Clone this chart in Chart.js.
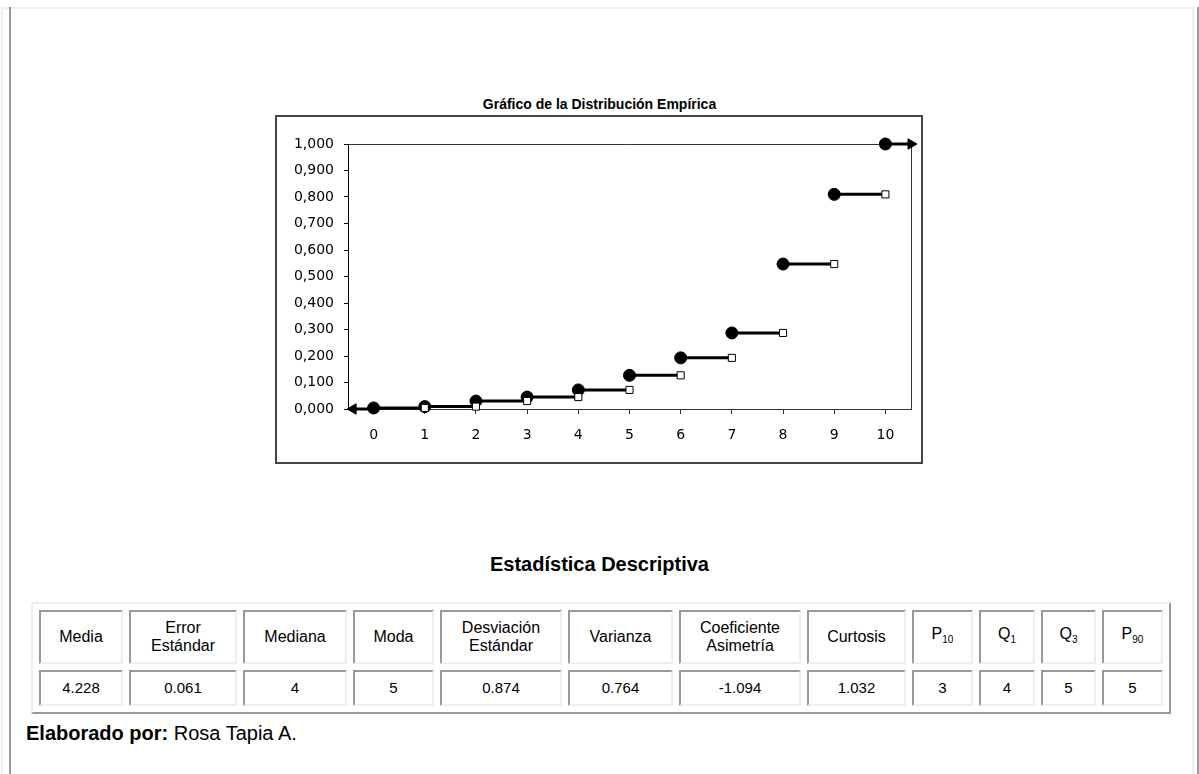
<!DOCTYPE html>
<html>
<head>
<meta charset="utf-8">
<script src="https://cdn.jsdelivr.net/npm/chart.js@4/dist/chart.umd.min.js"></script>
<style>
  body { margin: 0; background: #fff; font-family: "Liberation Sans", Arial, sans-serif; }
  .line { position: absolute; }
  #chartTitle { position: absolute; left: 0; width: 1199px; top: 96px; text-align: center; font-weight: bold; font-size: 14px; }
  #frame { position: absolute; left: 275px; top: 115px; width: 644px; height: 345px; border: 2px solid #444; }
  #statsTitle { position: absolute; left: 0; width: 1199px; top: 553px; text-align: center; font-weight: bold; font-size: 20px; }
  #stats { position: absolute; left: 31px; top: 602px; border-collapse: separate; border-spacing: 6px;
           border: 2px solid; border-color: #eee #999 #999 #eee; table-layout: fixed; }
  #stats td { border: 2px solid; border-color: #999 #eee #eee #999; text-align: center; font-size: 15px;
              padding: 0; box-sizing: border-box; line-height: 18px; }
  #stats tr.h td { height: 54px; font-size: 16px; }
  #stats tr.v td { height: 36px; }
  #stats sub { font-size: 10px; vertical-align: -4px; }
  #credit { position: absolute; left: 26px; top: 722px; font-size: 20px; }
</style>
</head>
<body>
<div class="line" style="left:1px;top:7px;width:1194px;height:2px;background:#eee"></div>
<div class="line" style="left:1px;top:7px;width:2px;height:767px;background:#eee"></div>
<div class="line" style="left:9px;top:7px;width:2px;height:767px;background:#999"></div>
<div class="line" style="left:1192px;top:9px;width:2px;height:765px;background:#eee"></div>
<div class="line" style="left:1197px;top:7px;width:2px;height:767px;background:#999"></div>

<div id="chartTitle">Gráfico de la Distribución Empírica</div>
<div id="frame"><canvas id="chart" width="644" height="345"></canvas></div>

<div id="statsTitle">Estadística Descriptiva</div>
<table id="stats"><colgroup id="cols"></colgroup><tr class="h" id="hrow"></tr><tr class="v" id="vrow"></tr></table>
<div id="credit"><b>Elaborado por:</b> Rosa Tapia A.</div>

<script>
// valores de la variable y distribución acumulada
const xValues = [0, 1, 2, 3, 4, 5, 6, 7, 8, 9, 10];
const cumFreq = [0.004, 0.009, 0.030, 0.045, 0.072, 0.127, 0.193, 0.287, 0.547, 0.810, 1.000];
const yTicks = [0, 0.1, 0.2, 0.3, 0.4, 0.5, 0.6, 0.7, 0.8, 0.9, 1.0];
const arrowLeftX = -0.4;
const arrowRightX = 10.5;

// estadística descriptiva
const statLabels = ['Media', 'Error<br>Estándar', 'Mediana', 'Moda', 'Desviación<br>Estándar', 'Varianza',
                    'Coeficiente<br>Asimetría', 'Curtosis', 'P<sub>10</sub>', 'Q<sub>1</sub>', 'Q<sub>3</sub>', 'P<sub>90</sub>'];
const statValues = ['4.228', '0.061', '4', '5', '0.874', '0.764', '-1.094', '1.032', '3', '4', '5', '5'];
const colWidths = [84, 108, 104, 81, 122, 105, 122, 99, 61, 56, 55, 61];

colWidths.forEach(w => {
    const c = document.createElement('col');
    c.style.width = w + 'px';
    document.getElementById('cols').appendChild(c);
});
statLabels.forEach(l => {
    const td = document.createElement('td');
    td.innerHTML = l;
    document.getElementById('hrow').appendChild(td);
});
statValues.forEach(v => {
    const td = document.createElement('td');
    td.textContent = v;
    document.getElementById('vrow').appendChild(td);
});

const stepSets = xValues.slice(0, -1).map((x, i) => ({
    data: [{x: x, y: cumFreq[i]}, {x: xValues[i + 1], y: cumFreq[i]}],
    pointStyle: ['circle', 'rect'],
    pointBackgroundColor: ['#000', '#fff'],
    pointRadius: [6, 5]
}));

const last = xValues.length - 1;
const datasets = stepSets.concat([
    {
        data: [{x: xValues[last], y: cumFreq[last]}, {x: arrowRightX, y: cumFreq[last]}],
        pointStyle: ['circle', 'triangle'],
        pointRotation: [0, 90],
        pointBackgroundColor: ['#000', '#000'],
        pointRadius: [6, 6]
    },
    {
        data: [{x: arrowLeftX, y: 0}, {x: xValues[0], y: 0}],
        pointStyle: ['triangle', 'rect'],
        pointRotation: [-90, 0],
        pointBackgroundColor: ['#000', '#fff'],
        pointRadius: [6, 5]
    }
]);
datasets.forEach(d => {
    d.borderColor = '#000';
    d.borderWidth = 3;
    d.pointBorderColor = '#000';
    d.pointBorderWidth = 1;
    d.clip = false;
    d.showLine = true;
});

// marco superior y derecho del área de trazado
const plotBox = {
    id: 'plotBox',
    beforeDatasetsDraw(chart) {
        const a = chart.chartArea, ctx = chart.ctx;
        ctx.save();
        ctx.strokeStyle = '#333';
        ctx.lineWidth = 1;
        ctx.beginPath();
        ctx.moveTo(a.left, a.top + 0.5);
        ctx.lineTo(a.right + 0.5, a.top + 0.5);
        ctx.lineTo(a.right + 0.5, a.bottom);
        ctx.stroke();
        ctx.restore();
    }
};

const tickFont = {family: '"DejaVu Sans", sans-serif', size: 14};

new Chart(document.getElementById('chart'), {
    type: 'scatter',
    data: {datasets: datasets},
    options: {
        responsive: false,
        animation: false,
        layout: {padding: {top: 27, right: 10, left: 0, bottom: 0}},
        plugins: {legend: {display: false}, tooltip: {enabled: false}},
        scales: {
            x: {
                type: 'linear',
                min: -0.5,
                max: 10.5,
                afterFit: s => { s.height = 53; },
                afterBuildTicks: s => { s.ticks = xValues.map(v => ({value: v})); },
                grid: {drawOnChartArea: false, color: '#333', tickLength: 5},
                border: {color: '#333', width: 1},
                ticks: {color: '#000', font: tickFont, padding: 13, maxRotation: 0}
            },
            y: {
                min: 0,
                max: 1,
                afterFit: s => { s.width = 71; },
                afterBuildTicks: s => { s.ticks = yTicks.map(v => ({value: v})); },
                grid: {drawOnChartArea: false, color: '#000', tickLength: 4},
                border: {color: '#000', width: 1},
                ticks: {color: '#000', font: tickFont, padding: 10,
                        callback: v => v.toFixed(3).replace('.', ',')}
            }
        }
    },
    plugins: [plotBox]
});
</script>
</body>
</html>
